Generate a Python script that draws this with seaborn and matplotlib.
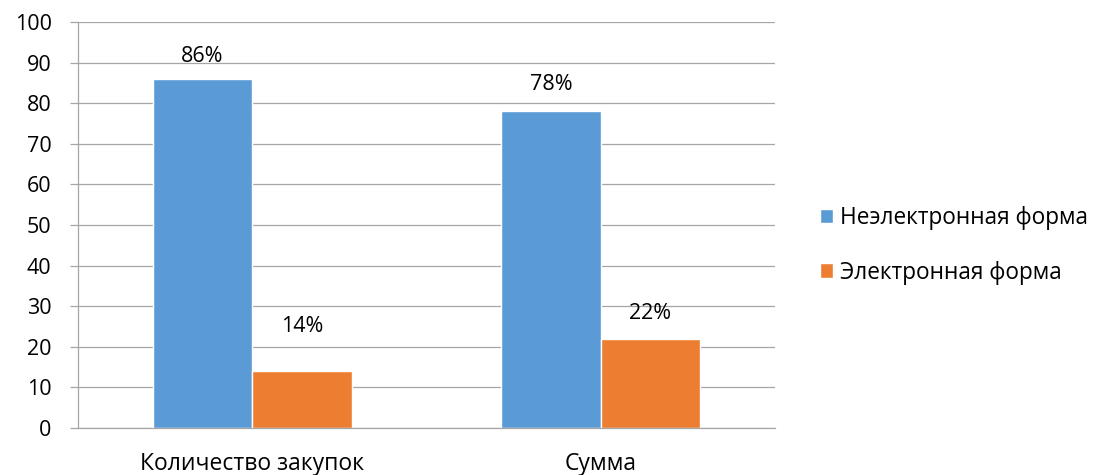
import matplotlib
matplotlib.use("Agg")
import matplotlib.pyplot as plt
import seaborn as sns
import pandas as pd

categories = ["Количество закупок", "Сумма"]
series_names = ["Неэлектронная форма", "Электронная форма"]
non_electronic = [86, 78]
electronic = [14, 22]
label_texts = ["86%", "78%", "14%", "22%"]
colors = ["#5B9BD5", "#ED7D31"]

df = pd.DataFrame({
    "category": categories * 2,
    "value": non_electronic + electronic,
    "form": [series_names[0]] * 2 + [series_names[1]] * 2,
})

sns.set_style("white")
plt.rcParams["font.family"] = ["Open Sans", "DejaVu Sans"]
plt.rcParams["text.color"] = "black"
plt.rcParams["xtick.color"] = "black"
plt.rcParams["ytick.color"] = "black"

fig = plt.figure(figsize=(11, 4.75), dpi=100)
ax = fig.add_axes([0.0709, 0.0989, 0.6336, 0.8548])

sns.barplot(data=df, x="category", y="value", hue="form", palette=colors,
            width=0.57, saturation=1, ax=ax, legend=True)

ax.set_ylim(0, 100)
ax.set_xlim(-0.5, 1.5)
ax.set_yticks(range(0, 101, 10))
ax.grid(axis="y", color="#A6A6A6", linewidth=0.9)
ax.set_axisbelow(True)
ax.set_xlabel("")
ax.set_ylabel("")

for s in ["top", "right"]:
    ax.spines[s].set_visible(False)
for s in ["left", "bottom"]:
    ax.spines[s].set_color("#A6A6A6")
    ax.spines[s].set_linewidth(0.9)

# category boundaries as tick marks on the x axis
ax.set_xticks([-0.5, 0.5, 1.5], minor=True)
ax.tick_params(axis="x", which="minor", length=7, color="#A6A6A6", width=0.9, direction="out")
ax.tick_params(axis="x", which="major", length=0, labelsize=16.5, pad=17, labelcolor="black")
ax.tick_params(axis="y", length=6, color="#A6A6A6", width=0.9, labelsize=15.5, pad=13,
               direction="out", labelcolor="black")
ax.tick_params(axis="y", left=True)
ax.tick_params(axis="x", bottom=True)

# value labels above bars (Excel places them with slightly uneven gaps)
offsets = [5.4, 6.5, 11.0, 6.3]
bars = [p for p in ax.patches if p.get_height() > 0][:4]
for p, txt, off in zip(bars, label_texts, offsets):
    ax.text(p.get_x() + p.get_width() / 2, p.get_height() + off, txt,
            ha="center", va="center", fontsize=15.5, color="black")

leg = ax.legend(loc="center left", bbox_to_anchor=(1.035, 0.45), frameon=False,
                fontsize=16.3, handlelength=0.6, handleheight=0.6,
                handletextpad=0.3, labelspacing=1.35)
for t in leg.get_texts():
    t.set_color("black")

fig.savefig("out.png", dpi=100)
